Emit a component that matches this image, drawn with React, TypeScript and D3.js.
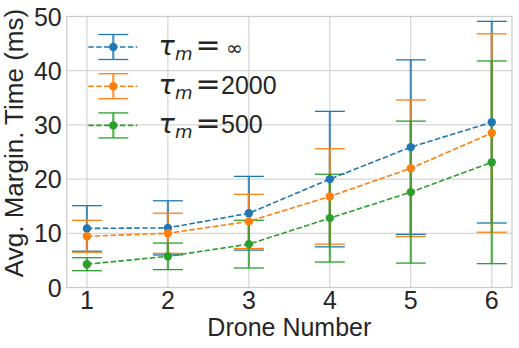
import React from "react";
import * as d3 from "d3";

// drone counts on the x axis
const droneNumbers = [1, 2, 3, 4, 5, 6];

// mean margin time (ms) and half-width of error bar, per tau_m setting
const meanInf = [10.9, 11.0, 13.7, 20.0, 25.9, 30.5];
const errInf = [4.2, 5.0, 6.8, 12.5, 16.1, 18.6];
const mean2000 = [9.45, 10.0, 12.2, 16.8, 22.0, 28.5];
const err2000 = [2.95, 3.7, 5.0, 8.8, 12.6, 18.3];
const mean500 = [4.3, 5.75, 8.0, 12.8, 17.6, 23.1];
const err500 = [1.2, 2.45, 4.4, 8.1, 13.1, 18.7];

const legendLabels = ["∞", "2000", "500"];
const yTicks = [0, 10, 20, 30, 40, 50];

const width = 519;
const height = 348;
const margin = { top: 16.5, right: 7, bottom: 60.5, left: 66.7 };
const colors = ["#1f77b4", "#ff7f0e", "#2ca02c"];
const font = "'Liberation Sans', Arial, sans-serif";
const mathFont = "'DejaVu Sans', sans-serif";
const textColor = "#262626";
const gridColor = "#cccccc";

const series = [
  { mean: meanInf, err: errInf, label: legendLabels[0], color: colors[0] },
  { mean: mean2000, err: err2000, label: legendLabels[1], color: colors[1] },
  { mean: mean500, err: err500, label: legendLabels[2], color: colors[2] },
];

export default function App() {
  const x = d3
    .scaleLinear()
    .domain([0.75, 6.25])
    .range([margin.left, width - margin.right]);
  const y = d3
    .scaleLinear()
    .domain([0, 50])
    .range([height - margin.bottom, margin.top]);

  const line = d3
    .line<number>()
    .x((_, i) => x(droneNumbers[i]))
    .y((d) => y(d));

  const capHalf = 15;

  return (
    <svg
      width={width}
      height={height}
      style={{ position: "absolute", left: 0, top: 0, background: "#fff" }}
      fontFamily={font}
    >
      {/* grid */}
      {yTicks.map((t) => (
        <line
          key={"gy" + t}
          x1={margin.left}
          x2={width - margin.right}
          y1={y(t)}
          y2={y(t)}
          stroke={gridColor}
          strokeWidth={1}
        />
      ))}
      {droneNumbers.map((t) => (
        <line
          key={"gx" + t}
          x1={x(t)}
          x2={x(t)}
          y1={margin.top}
          y2={height - margin.bottom}
          stroke={gridColor}
          strokeWidth={1}
        />
      ))}
      <rect
        x={margin.left}
        y={margin.top}
        width={width - margin.right - margin.left}
        height={height - margin.bottom - margin.top}
        fill="none"
        stroke={gridColor}
        strokeWidth={1.25}
      />

      {/* error bars (drawn below lines) */}
      {series.map((s, si) => (
        <g key={"eb" + si}>
          {s.mean.map((m, i) => {
            const cx = x(droneNumbers[i]);
            const top = y(m + s.err[i]);
            const bot = y(m - s.err[i]);
            return (
              <g key={i}>
                <line x1={cx} x2={cx} y1={top} y2={bot} stroke={s.color} strokeWidth={2.2} strokeOpacity={0.8} />
                <line x1={cx - capHalf} x2={cx + capHalf} y1={top} y2={top} stroke={s.color} strokeWidth={1.3} />
                <line x1={cx - capHalf} x2={cx + capHalf} y1={bot} y2={bot} stroke={s.color} strokeWidth={1.3} />
              </g>
            );
          })}
        </g>
      ))}

      {/* dashed lines with markers */}
      {series.map((s, si) => (
        <g key={"ln" + si}>
          <path d={line(s.mean) || ""} fill="none" stroke={s.color} strokeWidth={1.6} strokeDasharray="5.5 2.4" />
          {s.mean.map((m, i) => (
            <circle key={i} cx={x(droneNumbers[i])} cy={y(m)} r={4.2} fill={s.color} />
          ))}
        </g>
      ))}

      {/* y tick labels */}
      {yTicks.map((t) => (
        <text
          key={"ty" + t}
          x={margin.left - 5}
          y={y(t)}
          dy="0.36em"
          textAnchor="end"
          fontSize={25}
          fill={textColor}
        >
          {t}
        </text>
      ))}
      {/* x tick labels */}
      {droneNumbers.map((t) => (
        <text
          key={"tx" + t}
          x={x(t)}
          y={309}
          textAnchor="middle"
          fontSize={25}
          fill={textColor}
        >
          {t}
        </text>
      ))}

      <text x={(margin.left + width - margin.right) / 2} y={336} textAnchor="middle" fontSize={25} fill={textColor}>
        Drone Number
      </text>
      <text
        transform={`translate(23.3,143) rotate(-90)`}
        textAnchor="middle"
        fontSize={26}
        fill={textColor}
      >
        Avg. Margin. Time (ms)
      </text>

      {/* legend */}
      {series.map((s, si) => {
        const cy = 47 + si * 39.2;
        const base = cy + 7.5;
        return (
          <g key={"lg" + si}>
            <line x1={88.3} x2={137.3} y1={cy} y2={cy} stroke={s.color} strokeWidth={1.6} strokeDasharray="5.5 2.4" />
            <line x1={113.3} x2={113.3} y1={cy - 12.5} y2={cy + 12.5} stroke={s.color} strokeWidth={2.2} strokeOpacity={0.8} />
            <line x1={98.3} x2={128.3} y1={cy - 12.5} y2={cy - 12.5} stroke={s.color} strokeWidth={1.3} />
            <line x1={98.3} x2={128.3} y1={cy + 12.5} y2={cy + 12.5} stroke={s.color} strokeWidth={1.3} />
            <circle cx={113.3} cy={cy} r={4.2} fill={s.color} />
            <text x={158.5} y={base} fontSize={27} fontStyle="italic" fontFamily={mathFont} fill={textColor}>
              τ
            </text>
            <text x={175} y={base + 5} fontSize={18} fontStyle="italic" fontFamily={mathFont} fill={textColor}>
              m
            </text>
            <text x={195.5} y={base} fontSize={30} fontFamily={mathFont} fill={textColor}>
              =
            </text>
            <text
              x={s.label === "∞" ? 226 : 221}
              y={base}
              fontSize={s.label === "∞" ? 20 : 25}
              fontFamily={s.label === "∞" ? mathFont : font}
              fill={textColor}
            >
              {s.label}
            </text>
          </g>
        );
      })}
    </svg>
  );
}
